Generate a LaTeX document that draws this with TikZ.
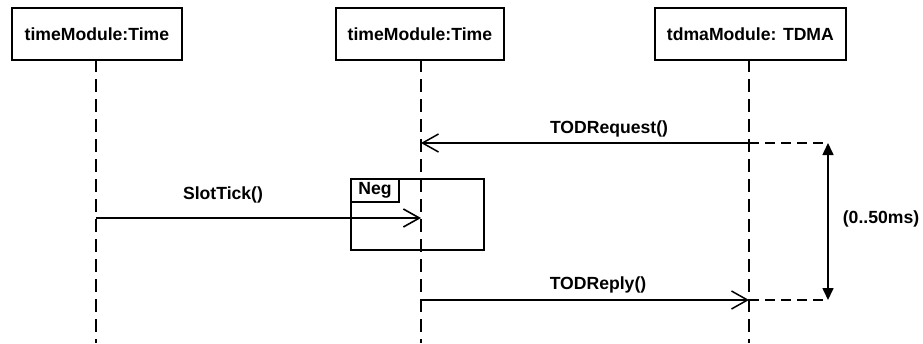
\documentclass[tikz,border=0pt]{standalone}
\usepackage{fontspec}
\setmainfont{Liberation Sans}
\usetikzlibrary{arrows.meta}
\begin{document}
\begin{tikzpicture}[x=1pt,y=-1pt,
  font=\fontsize{17.6}{20}\selectfont\bfseries,
  objbox/.style={draw,line width=1.8pt,minimum height=52pt,inner sep=0pt,anchor=north west},
  lifeline/.style={line width=1.6pt,dash pattern=on 13pt off 7pt},
  msg/.style={line width=1.4pt,-{Straight Barb[length=16pt,width=18pt,line width=1.5pt]}},
  msgthick/.style={line width=2.4pt,-{Straight Barb[length=16pt,width=18pt,line width=1.6pt]}},
  ext/.style={line width=1.4pt,dash pattern=on 10pt off 6pt},
  dur/.style={line width=1.6pt,{Triangle[length=12pt,width=11pt]}-{Triangle[length=12pt,width=11pt]}},
  lbl/.style={inner sep=0pt}
]
\useasboundingbox (0,0) rectangle (923,343);
\fill[white] (0,0) rectangle (923,343);
% objects
\node[objbox,minimum width=170pt] (o1) at (11,7) {timeModule:Time};
\node[objbox,minimum width=168pt] (o2) at (335,7) {timeModule:Time};
\node[objbox,minimum width=191pt] (o3) at (654,7) {tdmaModule: TDMA};
% lifeline ends
\coordinate (e1) at (96,343);
\coordinate (e2) at (421,343);
\coordinate (e3) at (749,343);
\draw[lifeline] (96,59) -- (e1);
\draw[lifeline] (421,59) -- (e2);
\draw[lifeline] (749,59) -- (e3);
% message points
\coordinate (reqS) at (749,143);
\coordinate (reqE) at (421,143);
\coordinate (tickS) at (96,218);
\coordinate (tickE) at (421,218);
\coordinate (repS) at (421,300);
\coordinate (repE) at (749,300);
\coordinate (d1) at (828,143);
\coordinate (d2) at (828,300);
% Neg fragment
\draw[line width=1.4pt] (351,179) rectangle (484,250);
\draw[line width=1.4pt] (351,202) -- (399,202) -- (399,179);
\node[lbl] (neg) at (375,190) {Neg};
% messages
\draw[msg] (reqS) -- (reqE);
\node[lbl] (reqL) at (609,129) {TODRequest()};
\draw[msgthick] (tickS) -- (tickE);
\node[lbl] (tickL) at (223,195) {SlotTick()};
\draw[msg] (repS) -- (repE);
\node[lbl] (repL) at (598,285) {TODReply()};
% duration
\draw[ext] (reqS) -- (d1);
\draw[ext] (repE) -- (d2);
\draw[dur] (d1) -- (d2);
\node[lbl] (durL) at (881,219) {(0..50ms)};
\end{tikzpicture}
\end{document}
